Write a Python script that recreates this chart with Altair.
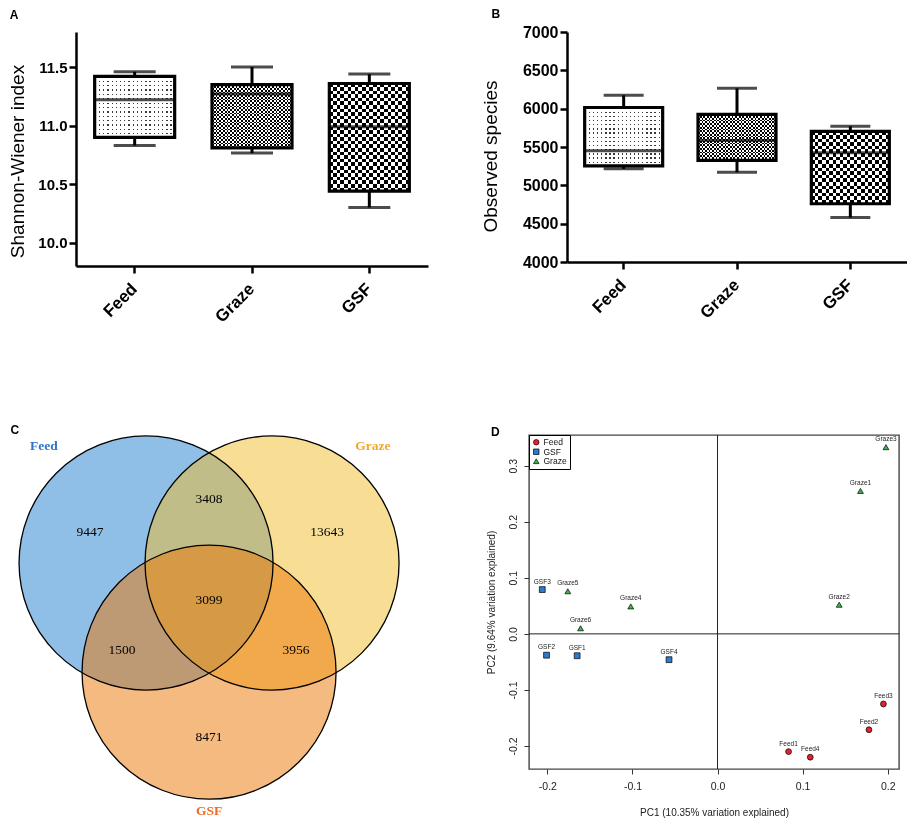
import math
import altair as alt
import pandas as pd

# ---------------- data ----------------
groups = ["Feed", "Graze", "GSF"]

shannon_low = [10.83, 10.765, 10.30]
shannon_q1 = [10.90, 10.81, 10.44]
shannon_med = [11.22, 11.27, 10.99]
shannon_q3 = [11.42, 11.35, 11.36]
shannon_high = [11.46, 11.50, 11.44]
shannon_ticks = [10.0, 10.5, 11.0, 11.5]

obs_low = [5215, 5170, 4580]
obs_q1 = [5255, 5325, 4760]
obs_med = [5450, 5585, 5425]
obs_q3 = [6015, 5925, 5705]
obs_high = [6175, 6265, 5770]
obs_ticks = [4000, 4500, 5000, 5500, 6000, 6500, 7000]

venn_sets = ["Feed", "Graze", "GSF"]
venn_regions = ["Feed only", "Feed & Graze", "Graze only", "All three",
                "Feed & GSF", "Graze & GSF", "GSF only"]
venn_counts = [9447, 3408, 13643, 3099, 1500, 3956, 8471]

pca_samples = ["Feed1", "Feed2", "Feed3", "Feed4",
               "GSF1", "GSF2", "GSF3", "GSF4",
               "Graze1", "Graze2", "Graze3", "Graze4", "Graze5", "Graze6"]
pca_group = ["Feed"] * 4 + ["GSF"] * 4 + ["Graze"] * 6
pca_pc1 = [0.0835, 0.178, 0.195, 0.109,
           -0.165, -0.201, -0.206, -0.057,
           0.168, 0.143, 0.198, -0.102, -0.176, -0.161]
pca_pc2 = [-0.210, -0.171, -0.125, -0.220,
           -0.039, -0.038, 0.079, -0.046,
           0.255, 0.052, 0.333, 0.049, 0.076, 0.010]
pca_xticks = [-0.2, -0.1, 0.0, 0.1, 0.2]
pca_yticks = [-0.2, -0.1, 0.0, 0.1, 0.2, 0.3]
pca_legend_order = ["Feed", "GSF", "Graze"]

# ---------------- styling / layout ----------------
SANS = "Liberation Sans"
SERIF = "Liberation Serif"
HYPHEN_FMT = "replace(format(datum.value, '.1f'), '\u2212', '-')"


def stripe_gradient(n, frac, on, off, along_y):
    stops = []
    for i in range(n):
        a = i / n
        b = (i + frac) / n
        c = (i + 1) / n
        stops += [alt.GradientStop(color=on, offset=a),
                  alt.GradientStop(color=on, offset=b),
                  alt.GradientStop(color=off, offset=b),
                  alt.GradientStop(color=off, offset=c)]
    if along_y:
        return alt.LinearGradient(gradient="linear", stops=stops, x1=0, x2=0, y1=0, y2=1)
    return alt.LinearGradient(gradient="linear", stops=stops, x1=0, x2=1, y1=0, y2=0)


# pattern per group: (kind, period px)
patterns = {"Feed": ("dots", 4.2), "Graze": ("check", 3.6), "GSF": ("check", 7.4)}


def box_panel(low, q1, med, q3, high, W, H, dom, ticks, fmt, ytitle, title_y,
              letter, box_w, cap_w, tick_fs, title_offset, title_dx, title_pad):
    df = pd.DataFrame({"group": groups, "low": low, "q1": q1, "med": med,
                       "q3": q3, "high": high})
    xenc = alt.X("group:N", sort=groups,
                 scale=alt.Scale(paddingInner=0, paddingOuter=0),
                 axis=alt.Axis(title=None, labelAngle=-45, labelAlign="right",
                               labelBaseline="middle", labelFontSize=17,
                               labelFontWeight="bold", labelFont=SANS,
                               labelColor="black", labelPadding=13,
                               tickSize=7, tickWidth=2.5, tickColor="black",
                               domainWidth=2.5, domainColor="black", grid=False))
    yscale = alt.Scale(domain=dom, nice=False, zero=False)
    yaxis = alt.Axis(values=ticks, format=fmt, title=ytitle, titleY=title_y,
                     titleFontSize=19, titleFontWeight="normal", titleFont=SANS,
                     titleColor="black", titlePadding=title_pad,
                     labelFontSize=tick_fs, labelFontWeight="bold", labelFont=SANS,
                     labelColor="black", labelPadding=2,
                     tickSize=7, tickWidth=2.5, tickColor="black",
                     domainWidth=2.5, domainColor="black", grid=False)

    def Y(f):
        return alt.Y(f, type="quantitative", scale=yscale, axis=yaxis)

    base = alt.Chart(df)
    layers = [
        base.mark_rule(color="black", strokeWidth=3).encode(x=xenc, y=Y("low"), y2="high"),
        base.mark_tick(color="black", size=cap_w, thickness=3).encode(x=xenc, y=Y("low")),
        base.mark_tick(color="black", size=cap_w, thickness=3).encode(x=xenc, y=Y("high")),
    ]
    span = dom[1] - dom[0]
    for i, g in enumerate(groups):
        sub = df[df["group"] == g]
        hpx = (q3[i] - q1[i]) / span * H
        kind, per = patterns[g]
        nv = max(1, round(box_w / per))
        nh = max(1, round(hpx / per))
        if kind == "dots":
            g1 = stripe_gradient(nv, 0.32, "#3a3a3a", "white", False)
            g2 = stripe_gradient(nh, 0.3, "#3a3a3a", "white", True)
            mode = "lighten"
        else:
            g1 = stripe_gradient(nv, 0.5, "black", "white", False)
            g2 = stripe_gradient(nh, 0.5, "black", "white", True)
            mode = "difference"
        layers.append(alt.Chart(sub).mark_bar(width=box_w, fill=g1, opacity=1)
                      .encode(x=xenc, y=Y("q1"), y2="q3"))
        layers.append(alt.Chart(sub).mark_bar(width=box_w, fill=g2, opacity=1, blend=mode)
                      .encode(x=xenc, y=Y("q1"), y2="q3"))
    layers += [
        base.mark_bar(width=box_w, fill="transparent", stroke="black", strokeWidth=3.2)
        .encode(x=xenc, y=Y("q1"), y2="q3"),
        base.mark_tick(color="black", size=box_w, thickness=3).encode(x=xenc, y=Y("med")),
    ]
    return alt.layer(*layers).properties(
        width=W, height=H,
        title=alt.TitleParams(letter, anchor="start", frame="bounds", fontSize=12,
                              fontWeight="bold", font=SANS, color="black",
                              offset=title_offset, dx=title_dx))


panel_a = box_panel(shannon_low, shannon_q1, shannon_med, shannon_q3, shannon_high,
                    352, 234, [9.8, 11.8], shannon_ticks, ".1f",
                    "Shannon-Wiener index", 129, "A", 80, 42, 15, 10, 1, 10)
panel_b = box_panel(obs_low, obs_q1, obs_med, obs_q3, obs_high,
                    340, 230, [4000, 7000], obs_ticks, "d",
                    "Observed species", 124, "B", 78, 40, 16, 3, 10, 22)

# ---------------- Venn (C) ----------------
C_W, C_H = 364, 380
PX = 126.0  # pixels per unit (centre spacing)
c_xdom = [-1.056, -1.056 + C_W / PX]
c_ydom = [1.016 - C_H / PX, 1.016]
venn_radius = 1.008  # in units of the centre spacing
circle_size = (2 * venn_radius * PX) ** 2  # Vega symbol size = (diameter)^2 for circles

venn_cx = [-0.5, 0.5, 0.0]
venn_cy = [0.0, 0.0, -0.866]
venn_base_colors = ["#1F7DCD", "#F1BB29", "#EB7501"]
venn_label_colors = ["#2F74C8", "#F2A62C", "#EE6B25"]
venn_label_x = [-1.31, 1.30, 0.0]
venn_label_y = [0.929, 0.929, -1.968]
region_x = [-0.944, 0.0, 0.937, 0.0, -0.69, 0.69, 0.0]
region_y = [0.246, 0.508, 0.246, -0.294, -0.69, -0.69, -1.381]

cxs = alt.Scale(domain=c_xdom, nice=False, zero=False)
cys = alt.Scale(domain=c_ydom, nice=False, zero=False)

circles = pd.DataFrame({"set": venn_sets, "cx": venn_cx, "cy": venn_cy,
                        "order": [0, 1, 2]})
set_labels = pd.DataFrame({"set": venn_sets, "lx": venn_label_x, "ly": venn_label_y})
regions = pd.DataFrame({"region": venn_regions, "count": venn_counts,
                        "rx": region_x, "ry": region_y})

venn_fill = alt.Chart(circles).mark_circle(size=circle_size, fillOpacity=0.5, opacity=1).encode(
    x=alt.X("cx:Q", scale=cxs, axis=None),
    y=alt.Y("cy:Q", scale=cys, axis=None),
    color=alt.Color("set:N", scale=alt.Scale(domain=venn_sets, range=venn_base_colors), legend=None),
    order="order:Q")
venn_edge = alt.Chart(circles).mark_point(size=circle_size, filled=False, color="black",
                                          strokeWidth=1.3, opacity=1).encode(
    x=alt.X("cx:Q", scale=cxs, axis=None), y=alt.Y("cy:Q", scale=cys, axis=None))
venn_counts_txt = alt.Chart(regions).mark_text(font=SERIF, fontSize=13.5, color="black").encode(
    x=alt.X("rx:Q", scale=cxs, axis=None), y=alt.Y("ry:Q", scale=cys, axis=None),
    text="count:N")
venn_names = alt.Chart(set_labels).mark_text(font=SERIF, fontSize=13.5, fontWeight="bold").encode(
    x=alt.X("lx:Q", scale=cxs, axis=None), y=alt.Y("ly:Q", scale=cys, axis=None),
    text="set:N",
    color=alt.Color("set:N", scale=alt.Scale(domain=venn_sets, range=venn_label_colors), legend=None))

panel_c = alt.layer(venn_fill, venn_edge, venn_counts_txt, venn_names).resolve_scale(
    color="independent").properties(
    width=C_W, height=C_H,
    title=alt.TitleParams("C", anchor="start", frame="bounds", fontSize=12,
                          fontWeight="bold", font=SANS, color="black",
                          offset=-4, dx=-6))

# ---------------- PCA (D) ----------------
pca = pd.DataFrame({"sample": pca_samples, "group": pca_group,
                    "pc1": pca_pc1, "pc2": pca_pc2})
dxs = alt.Scale(domain=[-0.2216, 0.2133], nice=False, zero=False)
dys = alt.Scale(domain=[-0.241, 0.3547], nice=False, zero=False)
dx_axis = alt.Axis(values=pca_xticks, labelExpr=HYPHEN_FMT, title="PC1 (10.35% variation explained)",
                   titleFontSize=10, titleFontWeight="normal", titleFont=SANS, titleColor="#222",
                   titlePadding=16, labelFontSize=10.5, labelFont=SANS, labelColor="#222",
                   labelPadding=7, tickSize=5, tickColor="#333", domain=False, grid=False)
dy_axis = alt.Axis(values=pca_yticks, labelExpr=HYPHEN_FMT, title="PC2 (9.64% variation explained)",
                   titleFontSize=10, titleFontWeight="normal", titleFont=SANS, titleColor="#222",
                   titlePadding=12, labelFontSize=10.5, labelFont=SANS, labelColor="#222",
                   labelAngle=-90, labelAlign="center", labelBaseline="bottom",
                   labelPadding=6, tickSize=5, tickColor="#333", domain=False, grid=False)
zero_df = pd.DataFrame({"z": [0.0]})
vline = alt.Chart(zero_df).mark_rule(color="#222", strokeWidth=1).encode(
    x=alt.X("z:Q", scale=dxs, axis=dx_axis))
hline = alt.Chart(zero_df).mark_rule(color="#222", strokeWidth=1).encode(
    y=alt.Y("z:Q", scale=dys, axis=dy_axis))
pts = alt.Chart(pca).mark_point(filled=True, size=34, stroke="black", strokeWidth=0.7,
                                opacity=1).encode(
    x=alt.X("pc1:Q", scale=dxs, axis=dx_axis),
    y=alt.Y("pc2:Q", scale=dys, axis=dy_axis),
    color=alt.Color("group:N", scale=alt.Scale(domain=pca_legend_order,
                                               range=["#E8202A", "#2B7BD0", "#3CB84A"]),
                    legend=alt.Legend(title=None, orient="top-left", offset=0, padding=3,
                                      strokeColor="black", fillColor="white",
                                      labelFontSize=8.5, labelFont=SANS, labelColor="#111",
                                      symbolSize=30, symbolStrokeColor="black",
                                      symbolStrokeWidth=0.7, rowPadding=0.5, labelOffset=3)),
    shape=alt.Shape("group:N", scale=alt.Scale(domain=pca_legend_order,
                                               range=["circle", "square", "triangle-up"]),
                    legend=alt.Legend(title=None, orient="top-left")))
lbls = alt.Chart(pca).mark_text(fontSize=6.5, font=SANS, color="#222", dy=-8).encode(
    x=alt.X("pc1:Q", scale=dxs, axis=dx_axis),
    y=alt.Y("pc2:Q", scale=dys, axis=dy_axis),
    text="sample:N")

panel_d = alt.layer(vline, hline, pts, lbls).properties(
    width=370, height=334,
    view=alt.ViewBackground(stroke="#444", strokeWidth=1.4),
    title=alt.TitleParams("D", anchor="start", frame="bounds", fontSize=12,
                          fontWeight="bold", font=SANS, color="black",
                          offset=-4, dx=5))

row1 = alt.hconcat(panel_a, panel_b, spacing=139, bounds="flush")
row2 = alt.hconcat(panel_c, panel_d, spacing=89, bounds="flush").resolve_scale(
    color="independent", shape="independent").resolve_legend(
    color="independent", shape="independent")
chart = alt.vconcat(row1, row2, spacing=98, bounds="full", padding=0).resolve_scale(
    color="independent", shape="independent").resolve_legend(
    color="independent", shape="independent").configure(
    background="white", view=alt.ViewConfig(strokeWidth=0))

chart.save("out.html", embed_options={"renderer": "svg", "actions": False})
